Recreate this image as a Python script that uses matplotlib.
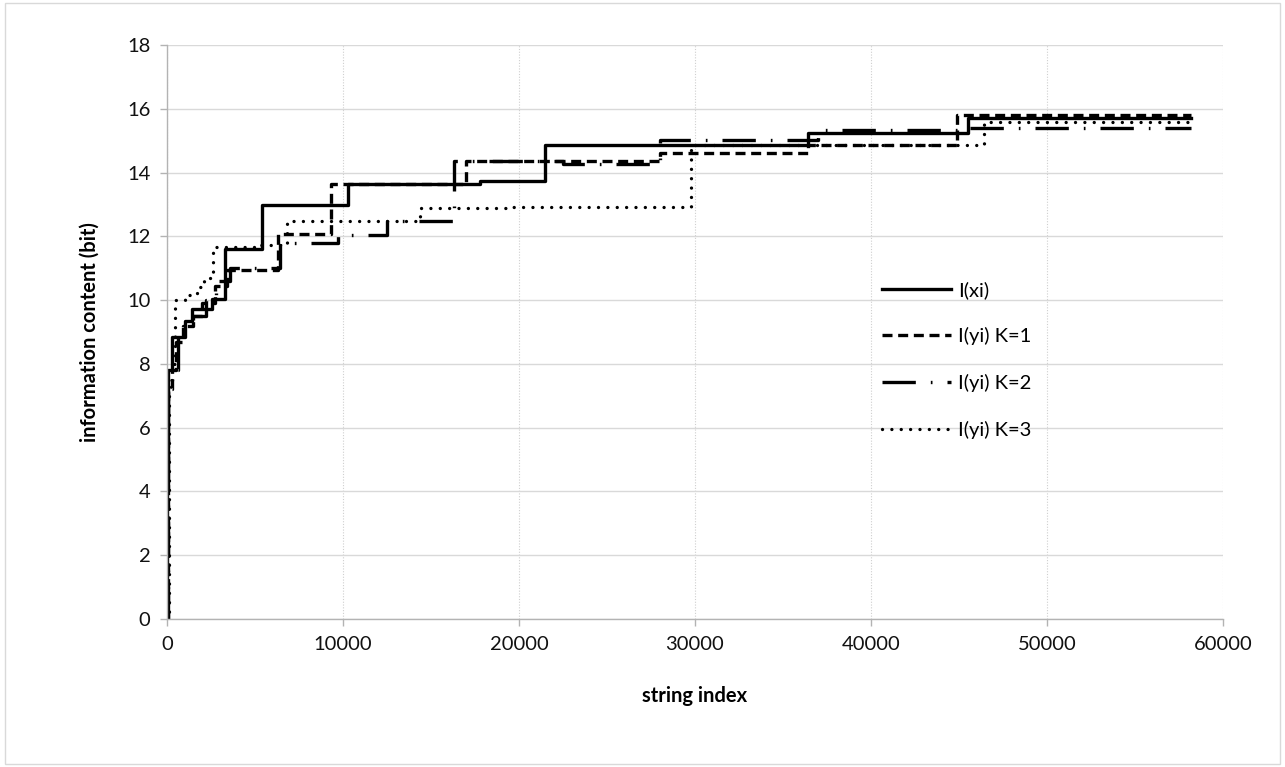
import matplotlib
matplotlib.use("Agg")
import matplotlib.pyplot as plt
from matplotlib.patches import Rectangle

plt.rcParams['font.family'] = ['Lato', 'DejaVu Sans']

# ---- data (step change points: string index, information content) ----
END_INDEX = 58200

xi_x = [0, 20, 60, 300, 1000, 1400, 2550, 3300, 5400, 10300, 17800, 21500, 36400, 45500]
xi_y = [0, 4.7, 7.8, 8.84, 9.35, 9.72, 10.03, 11.6, 12.97, 13.63, 13.72, 14.87, 15.24, 15.72]

k1_x = [0, 80, 300, 500, 900, 1500, 2000, 2700, 3400, 6300, 9300, 17000, 28000, 36400, 44900]
k1_y = [0, 7.2, 7.8, 8.7, 9.2, 9.5, 9.9, 10.45, 10.95, 12.07, 13.65, 14.35, 14.6, 14.87, 15.8]

k2_x = [0, 60, 300, 600, 900, 1500, 2200, 2800, 3600, 6400, 9700, 12500, 16300, 22500, 28000, 37000, 45500]
k2_y = [0, 7.2, 7.8, 8.8, 9.2, 9.5, 10.0, 10.6, 11.0, 11.8, 12.05, 12.47, 14.35, 14.28, 15.03, 15.35, 15.4]

k3_x = [0, 100, 300, 450, 1000, 1700, 2100, 2600, 5300, 6800, 14400, 19600, 29800, 46400]
k3_y = [0, 7.5, 8.0, 10.0, 10.15, 10.4, 10.7, 11.65, 11.72, 12.47, 12.88, 12.92, 14.85, 15.6]

labels = ['I(xi)', 'I(yi) K=1', 'I(yi) K=2', 'I(yi) K=3']
x_ticks = [0, 10000, 20000, 30000, 40000, 50000, 60000]
y_ticks = [0, 2, 4, 6, 8, 10, 12, 14, 16, 18]

fig = plt.figure(figsize=(12.85, 7.67), dpi=100)
ax = fig.add_axes([0.130, 0.193, 0.8217, 0.7483])

# outer chart border
fig.patches.append(Rectangle((0.004, 0.004), 0.992, 0.992, transform=fig.transFigure,
                             fill=False, edgecolor='#d9d9d9', linewidth=1.0))

styles = [
    dict(linestyle='-'),
    dict(linestyle=(0, (3, 1.7))),
    dict(linestyle=(0, (10, 4.5, 0.5, 4.5))),
    dict(linestyle=(0, (0.01, 2.8)), dash_capstyle='round'),
]
series = [(xi_x, xi_y), (k1_x, k1_y), (k2_x, k2_y), (k3_x, k3_y)]
for (sx, sy), st, lab in zip(series, styles, labels):
    xs = list(sx) + [END_INDEX]
    ys = list(sy) + [sy[-1]]
    ax.step(xs, ys, where='post', color='black', linewidth=2.4, label=lab, **st)

ax.set_xlim(0, 60000)
ax.set_ylim(0, 18)
ax.set_xticks(x_ticks)
ax.set_yticks(y_ticks)
ax.set_xticklabels([str(v) for v in x_ticks])
ax.set_yticklabels([str(v) for v in y_ticks])

ax.grid(axis='y', color='#d9d9d9', linewidth=1.0, linestyle='-')
ax.grid(axis='x', color='#cfcfcf', linewidth=0.8, linestyle=(0, (1, 1.5)))
ax.set_axisbelow(True)

for s in ['top', 'right']:
    ax.spines[s].set_visible(False)
for s in ['left', 'bottom']:
    ax.spines[s].set_color('#b3b3b3')
    ax.spines[s].set_linewidth(1.0)

ax.tick_params(axis='both', direction='out', length=5, width=1, color='#b3b3b3',
               labelsize=14.5, labelcolor='#111111', pad=7)

ax.set_xlabel('string index', fontsize=14.5, fontweight='bold', labelpad=24)
ax.set_ylabel('information content (bit)', fontsize=14.5, fontweight='bold', labelpad=20)

leg = ax.legend(loc='upper left', bbox_to_anchor=(0.677, 0.589), frameon=False,
                fontsize=14.5, handlelength=3.45, handletextpad=0.35,
                labelspacing=1.42, borderpad=0, borderaxespad=0)

fig.savefig('out.png', dpi=100)
